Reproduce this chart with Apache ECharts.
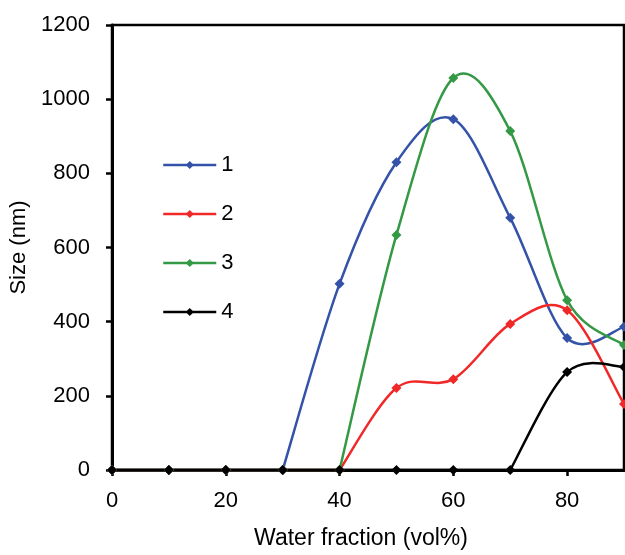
<!DOCTYPE html>
<html><head><meta charset="utf-8">
<script src="https://cdn.jsdelivr.net/npm/echarts@6/dist/echarts.min.js"></script>
<style>html,body{margin:0;padding:0;background:#fff}#c{width:625px;height:555px}</style>
</head><body><div id="c"></div>
<script>
const waterFraction = [0, 10, 20, 30, 40, 50, 60, 70, 80, 90];
const size1 = [0, 0, 0, 0, 502, 830, 946, 680, 356, 386];
const size2 = [0, 0, 0, 0, 0, 221, 245, 394, 431, 178];
const size3 = [0, 0, 0, 0, 0, 634, 1057, 914, 458, 337];
const size4 = [0, 0, 0, 0, 0, 0, 0, 0, 264, 278];
const seriesNames = ['1', '2', '3', '4'];
const seriesColors = ['#3453a8', '#f02828', '#339944', '#000000'];
const allSizes = [size1, size2, size3, size4];

const FONT = 'Liberation Sans, Arial, sans-serif';

function dist(a, b) { return Math.hypot(a[0] - b[0], a[1] - b[1]); }

function curveSeries(name, vs, color, z) {
  const xs = waterFraction;
  const n = xs.length;
  return {
    type: 'custom', name: name + ' curve', coordinateSystem: 'cartesian2d', z: z, silent: true,
    data: xs.slice(0, -1).map((x, i) => [x, vs[i]]),
    encode: { x: 0, y: 1 },
    renderItem: function (params, api) {
      const i = params.dataIndex;
      const c = j => api.coord([xs[j], vs[j]]);
      const p1 = c(i), p2 = c(i + 1);
      const style = { stroke: color, lineWidth: 2.5, fill: null };
      if (vs[i] === vs[i + 1]) {
        return { type: 'line', shape: { x1: p1[0], y1: p1[1], x2: p2[0], y2: p2[1] }, style: style };
      }
      const p0 = (i - 1 >= 0 && vs[i - 1] !== vs[i]) ? c(i - 1) : p1;
      const p3 = (i + 2 < n && vs[i + 2] !== vs[i + 1]) ? c(i + 2) : p2;
      const d02 = dist(p0, p2), d12 = dist(p1, p2), d13 = dist(p1, p3);
      let f1 = 1 / 6, f2 = 1 / 6;
      if (d02 > 0 && d02 / 6 > d12 / 2) f1 = d12 / (2 * d02);
      if (d13 > 0 && d13 / 6 > d12 / 2) f2 = d12 / (2 * d13);
      return {
        type: 'bezierCurve',
        shape: {
          x1: p1[0], y1: p1[1], x2: p2[0], y2: p2[1],
          cpx1: p1[0] + (p2[0] - p0[0]) * f1, cpy1: p1[1] + (p2[1] - p0[1]) * f1,
          cpx2: p2[0] - (p3[0] - p1[0]) * f2, cpy2: p2[1] - (p3[1] - p1[1]) * f2
        },
        style: style
      };
    }
  };
}

const series = [];
allSizes.forEach((ys, k) => {
  series.push(curveSeries(seriesNames[k], ys, seriesColors[k], 2 + k * 0.1));
  series.push({
    type: 'line', name: seriesNames[k], z: 5 + k * 0.1,
    data: waterFraction.map((x, i) => [x, ys[i]]),
    symbol: 'diamond', symbolSize: 10, showSymbol: true,
    lineStyle: { opacity: 0, width: 2.5, color: seriesColors[k] },
    itemStyle: { color: seriesColors[k] },
    animation: false
  });
});

const chart = echarts.init(document.getElementById('c'));
chart.setOption({
  animation: false,
  backgroundColor: '#fff',
  grid: { left: 112, right: 1, top: 25, bottom: 85, show: true, borderColor: '#000', borderWidth: 2.5,
          containLabel: false, outerBoundsMode: 'none' },
  legend: {
    orient: 'vertical', left: 157, top: 149, itemWidth: 53, itemHeight: 10, itemGap: 27,
    data: seriesNames,
    textStyle: { fontSize: 22, color: '#000', fontFamily: FONT, lineHeight: 22 },
    lineStyle: { width: 2.5, opacity: 1 }
  },
  xAxis: {
    type: 'value', min: 0, max: 90, interval: 20,
    name: 'Water fraction (vol%)', nameLocation: 'middle', nameGap: 57,
    nameTextStyle: { fontSize: 23, color: '#000', fontFamily: FONT, padding: [0, 14, 0, 0] },
    axisLine: { lineStyle: { color: '#000', width: 3 } },
    axisTick: { length: 6, lineStyle: { color: '#000', width: 2.5 } },
    axisLabel: { fontSize: 22, color: '#000', fontFamily: FONT, margin: 20, showMaxLabel: false },
    splitLine: { show: false }
  },
  yAxis: {
    type: 'value', min: 0, max: 1200, interval: 200,
    name: 'Size (nm)', nameLocation: 'middle', nameGap: 74,
    nameTextStyle: { fontSize: 22, color: '#000', fontFamily: FONT },
    axisLine: { show: true, lineStyle: { color: '#000', width: 3 } },
    axisTick: { show: true, length: 6, lineStyle: { color: '#000', width: 2.5 } },
    axisLabel: { fontSize: 22, color: '#000', fontFamily: FONT, margin: 22, formatter: v => String(v) },
    splitLine: { show: false }
  },
  series: series
});
</script>
</body></html>
